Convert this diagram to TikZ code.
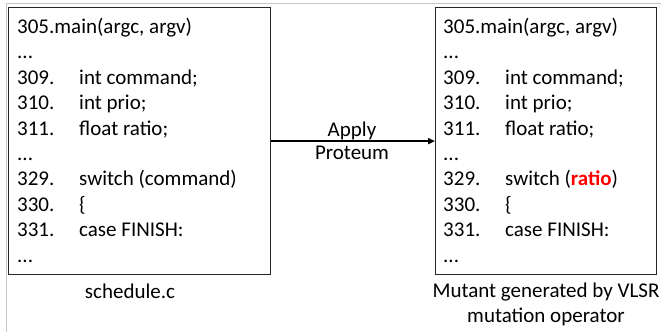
\documentclass[tikz,border=0pt]{standalone}
\usepackage{fontspec}
\setmainfont{Carlito}
\usetikzlibrary{arrows.meta}
\begin{document}
\begin{tikzpicture}[x=1pt,y=-1pt,
  codebox/.style={draw=black!85,line width=1.2pt,inner sep=0pt,anchor=north west,minimum height=267pt},
  code/.style={anchor=base west,inner sep=0pt,font=\fontsize{21}{25.4}\selectfont},
  lbl/.style={anchor=base,inner sep=0pt,font=\fontsize{21}{25}\selectfont},
  flow/.style={line width=1.8pt,-{Triangle[length=7pt,width=6pt]}}]
\useasboundingbox (0,0) rectangle (661,332);
\draw[gray!45,line width=1pt] (6,332) -- (6,3) -- (661,3);
\node[codebox,minimum width=262pt] (orig) at (8,7) {};
\node[codebox,minimum width=221pt] (mut) at (435,7) {};
\node[code] (origtext) at (17,33.5) {\begin{tabular}[t]{@{}p{62pt}@{}l@{}}
\multicolumn{2}{@{}l@{}}{305.main(argc, argv)}\\
...\\
309. & int command;\\
310. & int prio;\\
311. & float ratio;\\
...\\
329. & switch (command)\\
330. & \{\\
331. & case FINISH:\\
...
\end{tabular}};
\node[code] (muttext) at (443,33.5) {\begin{tabular}[t]{@{}p{62pt}@{}l@{}}
\multicolumn{2}{@{}l@{}}{305.main(argc, argv)}\\
...\\
309. & int command;\\
310. & int prio;\\
311. & float ratio;\\
...\\
329. & switch (\textcolor{red}{\textbf{ratio}})\\
330. & \{\\
331. & case FINISH:\\
...
\end{tabular}};
\draw[flow] (orig.east) -- (mut.west);
\node[lbl] (apply) at (352,136) {Apply};
\node[lbl] (proteum) at (352,159.5) {Proteum};
\node[lbl] (origlbl) at (130,298.5) {schedule.c};
\node[lbl] (mutlbl1) at (546,297.7) {Mutant generated by VLSR};
\node[lbl] (mutlbl2) at (546,322.7) {mutation operator};
\end{tikzpicture}
\end{document}
